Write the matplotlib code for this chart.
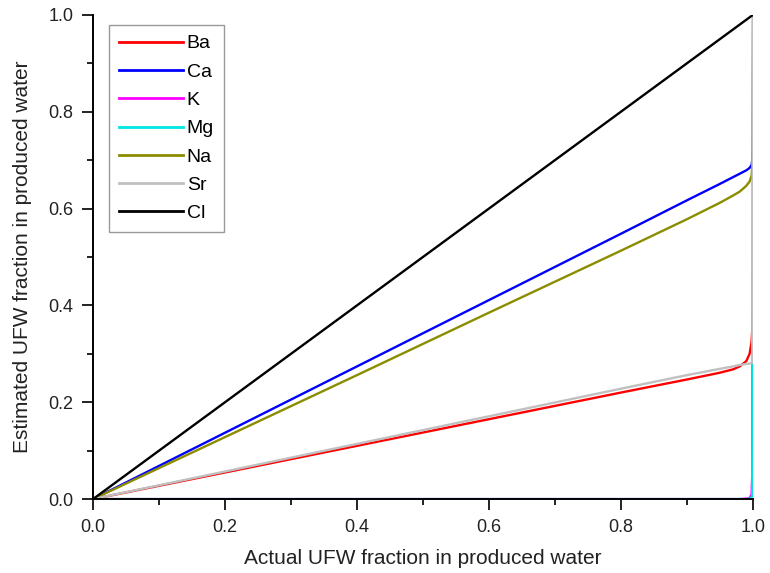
import matplotlib
matplotlib.use("Agg")
import matplotlib.pyplot as plt
from matplotlib.ticker import MultipleLocator, FormatStrFormatter

plt.rcParams['font.family'] = ['Liberation Sans', 'DejaVu Sans']

# actual UFW fraction (shared x grid, dense near 1.0)
x = [0.0, 0.2, 0.4, 0.6, 0.8, 0.9, 0.95, 0.97, 0.98, 0.99, 0.995, 0.998, 0.999, 1.0]

# estimated UFW fraction per ion
ba = [0.0, 0.055, 0.11, 0.165, 0.22, 0.247, 0.261, 0.268, 0.274, 0.285, 0.30, 0.325, 0.35, 0.39]
ca = [0.0, 0.137, 0.274, 0.411, 0.548, 0.617, 0.651, 0.665, 0.672, 0.679, 0.684, 0.69, 0.70, 0.717]
k = [0.0, 0.0, 0.0, 0.0, 0.0, 0.0, 0.0, 0.0, 0.0, 0.001, 0.002, 0.01, 0.05, 0.70]
mg = [0.0, 0.0, 0.0, 0.0, 0.0, 0.0, 0.0, 0.0, 0.0, 0.0, 0.001, 0.003, 0.01, 0.28]
na = [0.0, 0.128, 0.256, 0.385, 0.513, 0.578, 0.612, 0.627, 0.635, 0.647, 0.656, 0.668, 0.685, 0.99]
sr = [0.0, 0.057, 0.114, 0.171, 0.228, 0.256, 0.269, 0.274, 0.277, 0.279, 0.28, 0.281, 0.282, 1.0]
cl = [0.0, 0.2, 0.4, 0.6, 0.8, 0.9, 0.95, 0.97, 0.98, 0.99, 0.995, 0.998, 0.999, 1.0]

series = [
    ("Ba", ba, "#ff0000"),
    ("Ca", ca, "#0000ff"),
    ("K", k, "#ff00ff"),
    ("Mg", mg, "#00e5e5"),
    ("Na", na, "#8c8c00"),
    ("Sr", sr, "#c0c0c0"),
    ("Cl", cl, "#000000"),
]

fig = plt.figure(figsize=(7.7, 5.73), dpi=100)
ax = fig.add_axes([0.1208, 0.129, 0.857, 0.845])

for name, y, color in series:
    ax.plot(x, y, color=color, lw=1.7, label=name)

ax.set_xlim(0, 1.0)
ax.set_ylim(0, 1.0)
ax.xaxis.set_major_locator(MultipleLocator(0.2))
ax.xaxis.set_minor_locator(MultipleLocator(0.1))
ax.yaxis.set_major_locator(MultipleLocator(0.2))
ax.yaxis.set_minor_locator(MultipleLocator(0.1))
ax.xaxis.set_major_formatter(FormatStrFormatter('%.1f'))
ax.yaxis.set_major_formatter(FormatStrFormatter('%.1f'))

for side in ("top", "right"):
    ax.spines[side].set_visible(False)
for side in ("left", "bottom"):
    ax.spines[side].set_linewidth(1.4)

ax.tick_params(which="major", direction="out", length=8, width=1.4,
               labelsize=13, colors="#222222", pad=6)
ax.tick_params(which="minor", direction="out", length=4, width=1.4, colors="#222222")

ax.set_xlabel("Actual UFW fraction in produced water", fontsize=15, labelpad=10,
              color="#222222")
ax.set_ylabel("Estimated UFW fraction in produced water", fontsize=15, labelpad=12,
              color="#222222")

leg = ax.legend(loc="upper left", bbox_to_anchor=(0.024, 0.979), fontsize=14,
                handlelength=3.3, handletextpad=0.2, labelspacing=0.55,
                fancybox=False, edgecolor="#808080", borderpad=0.5,
                borderaxespad=0)
leg.get_frame().set_linewidth(1.0)
for line in leg.get_lines():
    line.set_linewidth(2.0)

fig.savefig("out.png", dpi=100)
